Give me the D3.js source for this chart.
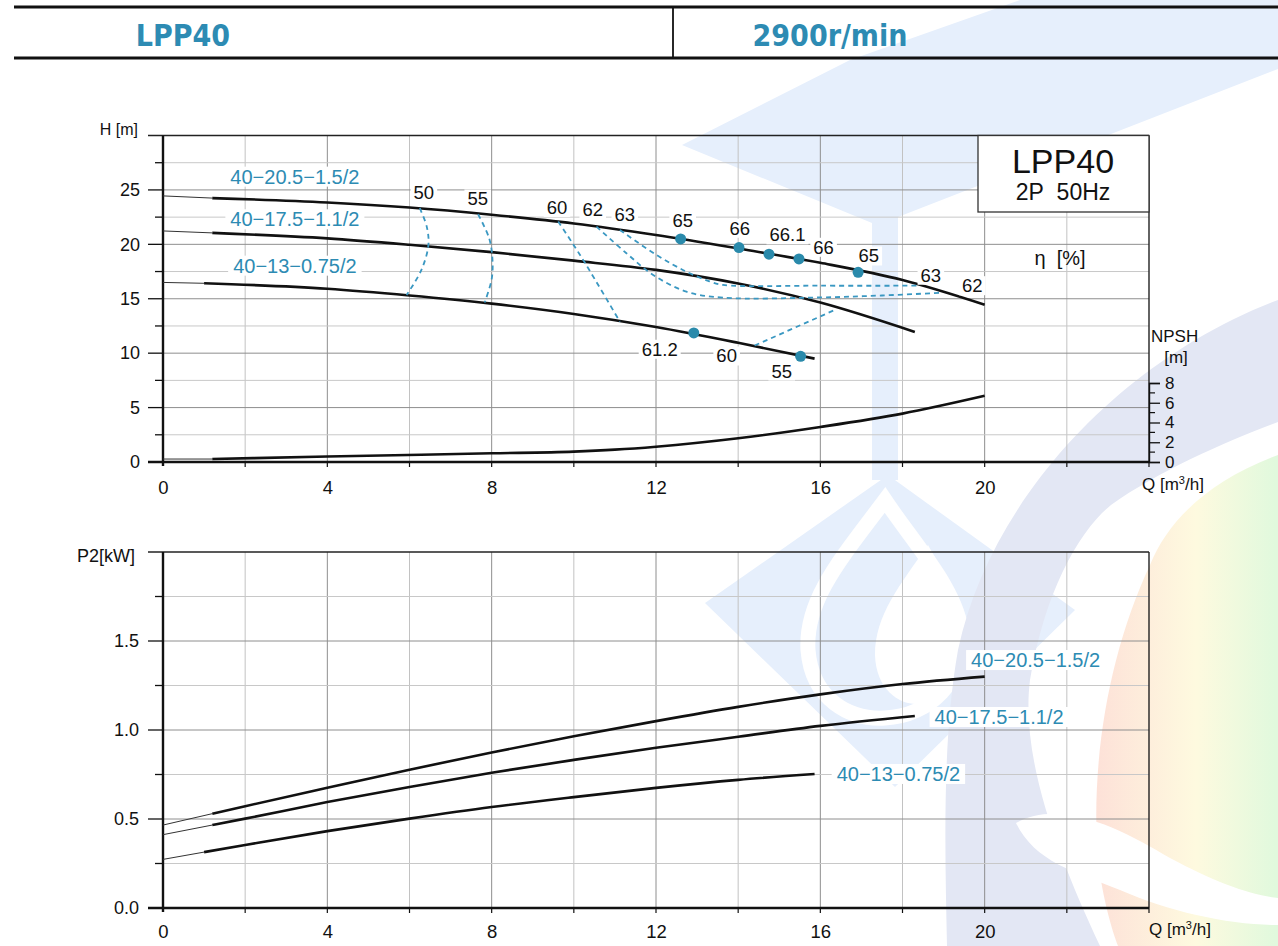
<!DOCTYPE html>
<html>
<head>
<meta charset="utf-8">
<script src="https://cdnjs.cloudflare.com/ajax/libs/d3/7.8.5/d3.min.js"></script>
<style>
  body { margin: 0; background: #fff; }
  svg { display: block; font-family: 'Liberation Sans', Arial, sans-serif; }
</style>
</head>
<body>
<svg id="chart" width="1278" height="946"></svg>
<script>
// ---- data ----
const Q_TICKS = [0, 4, 8, 12, 16, 20];
const H_TICKS = [0, 5, 10, 15, 20, 25];
const NPSH_TICKS = [0, 2, 4, 6, 8];
const P_TICKS = [0, 0.5, 1.0, 1.5];
const MODELS = ['40\u221220.5\u22121.5/2', '40\u221217.5\u22121.1/2', '40\u221213\u22120.75/2'];

// Q-H curves (Q m3/h, H m)
const hQ1 = [0, 1.2, 4, 6, 8, 10, 12, 14, 16, 18, 20];
const hH1 = [24.45, 24.25, 23.85, 23.38, 22.72, 21.92, 20.86, 19.62, 18.3, 16.72, 14.45];
const hQ2 = [0, 1.2, 4, 6, 8, 10, 12, 14, 16, 18.3];
const hH2 = [21.23, 21.05, 20.55, 19.96, 19.28, 18.5, 17.65, 16.4, 14.65, 11.95];
const hQ3 = [0, 1, 4, 6, 8, 10, 12, 14, 15.86];
const hH3 = [16.5, 16.42, 15.92, 15.3, 14.55, 13.6, 12.4, 10.95, 9.5];

// NPSH curve (m)
const npshQ = [0, 1.2, 4, 8, 10, 11, 12, 14, 16, 18, 20];
const npshV = [0.3, 0.3, 0.55, 0.88, 1.05, 1.25, 1.55, 2.4, 3.55, 4.9, 6.7];

// P2 curves (kW)
const pQ1 = [0, 1.2, 2, 4, 6, 8, 10, 12, 14, 16, 18, 20];
const pP1 = [0.466, 0.53, 0.572, 0.675, 0.777, 0.874, 0.965, 1.05, 1.13, 1.2, 1.258, 1.30];
const pQ2 = [0, 1.2, 2, 4, 6, 8, 10, 12, 14, 16, 18.3];
const pP2 = [0.412, 0.466, 0.502, 0.595, 0.68, 0.76, 0.832, 0.9, 0.962, 1.023, 1.079];
const pQ3 = [0, 1, 2, 4, 6, 8, 10, 12, 14, 15.86];
const pP3 = [0.273, 0.314, 0.354, 0.432, 0.502, 0.567, 0.623, 0.675, 0.72, 0.753];

// iso-efficiency lines [Q, H]
const eta50 = [[6.25, 23.32], [6.42, 21.63], [6.46, 19.94], [6.29, 17.65], [5.93, 15.35]];
const eta55 = [[7.67, 22.76], [7.94, 20.54], [8.02, 18.57], [8.0, 16.8], [7.83, 14.65]];
const eta60 = [[9.62, 22.1], [9.95, 20.2], [10.27, 18.3], [11.12, 12.9]];
const eta62 = [[10.55, 21.63], [11.28, 19.18], [11.93, 17.19], [12.74, 15.65], [13.63, 15.1], [16, 15.12], [17.5, 15.3], [18.95, 15.55]];
const eta63 = [[11.12, 21.32], [12.01, 19.03], [12.74, 17.49], [13.3, 16.6], [13.63, 16.27], [16, 16.2], [18.34, 16.2]];
const eta60b = [[14.4, 10.7], [16.4, 14.05]];

// best-efficiency points
const dots = [[12.6, 20.5], [14.02, 19.7], [14.75, 19.1], [15.48, 18.66], [16.92, 17.43], [12.92, 11.86], [15.52, 9.71]];

// efficiency labels [Q, H, text]
const etaLabels = [
  [6.35, 24.75, '50'], [7.66, 24.17, '55'], [9.59, 23.39, '60'], [10.46, 23.16, '62'], [11.24, 22.76, '63'],
  [12.65, 22.15, '65'], [14.04, 21.48, '66'], [15.2, 20.87, '66.1'], [16.08, 19.73, '66'], [17.18, 18.93, '65'],
  [18.69, 17.16, '63'], [19.7, 16.2, '62'], [12.09, 10.36, '61.2'], [13.72, 9.74, '60'], [15.06, 8.36, '55']
];
// model label anchors
const hLabelPos = [[3.21, 26.22], [3.21, 22.3], [3.21, 18.04]];
const pLabelPos = [[21.24, 1.393], [20.35, 1.073], [17.9, 0.753]];

// ---- drawing ----
const svg = d3.select('#chart');
const BLUE = '#2d8bb3';

const x = d3.scaleLinear().domain([0, 24]).range([163, 1149]);
const yH = d3.scaleLinear().domain([0, 30]).range([462, 135.5]);
const yN = d3.scaleLinear().domain([0, 8]).range([462, 383]);
const yP = d3.scaleLinear().domain([0, 2]).range([908, 552]);

// faint logo watermark behind everything
const defs = svg.append('defs');
const warm = defs.append('linearGradient').attr('id', 'warm')
  .attr('gradientUnits', 'userSpaceOnUse').attr('x1', 1095).attr('x2', 1278).attr('y1', 700).attr('y2', 700);
warm.append('stop').attr('offset', '0%').attr('stop-color', '#fde1d8');
warm.append('stop').attr('offset', '55%').attr('stop-color', '#fefadf');
warm.append('stop').attr('offset', '100%').attr('stop-color', '#e0f9dd');

const wm = svg.append('g');
wm.append('path').attr('fill', '#e6effc')
  .attr('d', 'M1020,0 L1278,0 L1278,69 L898,217 L898,480 L872,480 L872,223 L682,145 L850,60 Z');
wm.append('path').attr('fill', '#e6effc')
  .attr('d', 'M705,603 L888,475 L1075,610 L895,787 Z');
wm.append('path').attr('fill', 'none').attr('stroke', '#fff').attr('stroke-width', 15)
  .attr('d', 'M885,500 C840,560 805,600 808,650 C812,700 850,720 885,718 C930,716 965,680 962,635 C958,590 915,545 885,500 Z');
wm.append('path').attr('fill', '#fff')
  .attr('d', 'M928,545 C900,585 875,615 875,655 C876,690 900,705 918,704 C945,702 968,675 966,640 C962,605 945,575 928,545 Z');
wm.append('path').attr('fill', '#e3e7f4')
  .attr('d', 'M1278,300 C1120,360 990,500 958,650 C942,740 945,850 947,946 L1100,946 C1060,860 1020,760 1030,680 C1045,590 1080,530 1111,505 C1160,470 1230,440 1278,422 Z');
wm.append('path').attr('fill', 'url(#warm)')
  .attr('d', 'M1278,455 C1210,480 1168,520 1150,565 C1110,650 1090,760 1098,860 C1103,900 1112,930 1118,946 L1278,946 Z');
wm.append('path').attr('fill', '#fff')
  .attr('d', 'M1016,823 C1060,798 1120,828 1170,858 C1215,882 1250,895 1278,898 L1278,925 C1230,925 1170,912 1120,890 C1075,872 1035,862 1016,823 Z');

// header
const head = svg.append('g');
head.append('line').attr('x1', 14).attr('x2', 1278).attr('y1', 7).attr('y2', 7).attr('stroke', '#111').attr('stroke-width', 3);
head.append('line').attr('x1', 14).attr('x2', 1278).attr('y1', 58).attr('y2', 58).attr('stroke', '#111').attr('stroke-width', 3);
head.append('line').attr('x1', 673).attr('x2', 673).attr('y1', 7).attr('y2', 58).attr('stroke', '#111').attr('stroke-width', 1.8);
head.selectAll('text').data([[183, 'LPP40'], [830, '2900r/min']]).join('text')
  .attr('x', d => d[0]).attr('y', 46).attr('text-anchor', 'middle')
  .style('font-family', "'DejaVu Sans Condensed', 'DejaVu Sans', sans-serif")
  .style('font-stretch', 'condensed').style('font-weight', 'bold').style('font-size', '30px')
  .attr('fill', BLUE).text(d => d[1]);

function isMult(v, m) { return Math.abs(v / m - Math.round(v / m)) < 1e-6; }

function frame(g, y, yMax, yStep, yMajor) {
  const yTop = y(yMax), yBot = y(0);
  g.append('g').selectAll('line').data(d3.range(2, 24, 2)).join('line')
    .attr('x1', d => x(d)).attr('x2', d => x(d)).attr('y1', yTop).attr('y2', yBot)
    .attr('stroke', d => isMult(d, 4) ? '#8e8e8e' : '#c2c2c2').attr('stroke-width', 1);
  g.append('g').selectAll('line').data(d3.range(yStep, yMax - 1e-9, yStep)).join('line')
    .attr('x1', x(0)).attr('x2', x(24)).attr('y1', d => y(d)).attr('y2', d => y(d))
    .attr('stroke', d => isMult(d, yMajor) ? '#8e8e8e' : '#c8c8c8').attr('stroke-width', 1);
  // left ticks
  g.append('g').selectAll('line').data(d3.range(0, yMax - 1e-9, yStep)).join('line')
    .attr('x1', d => isMult(d, yMajor) ? x(0) - 15 : x(0) - 8).attr('x2', x(0))
    .attr('y1', d => y(d)).attr('y2', d => y(d)).attr('stroke', '#111').attr('stroke-width', 1.3);
  // bottom ticks
  g.append('g').selectAll('line').data(d3.range(2, 24.1, 2)).join('line')
    .attr('x1', d => x(d)).attr('x2', d => x(d)).attr('y1', yBot).attr('y2', yBot + 5)
    .attr('stroke', '#111').attr('stroke-width', 1.2);
  // borders
  g.append('line').attr('x1', x(0) - 15).attr('x2', x(24)).attr('y1', yTop).attr('y2', yTop).attr('stroke', '#222').attr('stroke-width', 1.5);
  g.append('line').attr('x1', x(24)).attr('x2', x(24)).attr('y1', yTop).attr('y2', yBot).attr('stroke', '#222').attr('stroke-width', 1.4);
  g.append('line').attr('x1', x(0)).attr('x2', x(0)).attr('y1', yTop).attr('y2', yBot + 4).attr('stroke', '#111').attr('stroke-width', 2.4);
  g.append('line').attr('x1', x(0) - 15).attr('x2', x(24)).attr('y1', yBot).attr('y2', yBot).attr('stroke', '#111').attr('stroke-width', 2.6);
}

function styleAxisText(sel, size) {
  sel.select('.domain').remove();
  sel.selectAll('.tick line').remove();
  sel.selectAll('text').style('font-size', size + 'px').style('font-family', "'Liberation Sans', Arial, sans-serif").attr('fill', '#111');
}

const line = d3.line().curve(d3.curveMonotoneX);
const iso = d3.line().curve(d3.curveCatmullRom.alpha(0.5));

function curve(g, qs, vs, y, split) {
  const pts = qs.map((q, i) => [x(q), y(vs[i])]);
  const thin = pts.filter((p, i) => qs[i] <= split);
  const thick = pts.filter((p, i) => qs[i] >= split);
  g.append('path').attr('d', line(thin)).attr('fill', 'none').attr('stroke', '#333').attr('stroke-width', 1);
  g.append('path').attr('d', line(thick)).attr('fill', 'none').attr('stroke', '#111').attr('stroke-width', 2.6);
}

function boxedText(g, px, py, txt, size, color, pad) {
  const t = g.append('text').attr('x', px).attr('y', py).attr('text-anchor', 'middle')
    .attr('dominant-baseline', 'central').style('font-size', size + 'px').attr('fill', color).text(txt);
  const b = t.node().getBBox();
  g.insert('rect', () => t.node()).attr('x', b.x - pad).attr('y', b.y + 1).attr('width', b.width + 2 * pad)
    .attr('height', b.height - 2).attr('fill', '#fff');
}

// ---------- top chart: Q-H, eta, NPSH ----------
const gTop = svg.append('g');
frame(gTop, yH, 30, 2.5, 5);

gTop.append('g').attr('transform', `translate(${x(0) - 15},0)`)
  .call(d3.axisLeft(yH).tickValues(H_TICKS).tickSize(0).tickPadding(8))
  .call(s => styleAxisText(s, 18));
gTop.append('g').attr('transform', `translate(0,${yH(0) + 5})`)
  .call(d3.axisBottom(x).tickValues(Q_TICKS).tickSize(0).tickPadding(14))
  .call(s => styleAxisText(s, 18.5));

// NPSH axis on the right
const npshAxis = gTop.append('g').attr('transform', `translate(${x(24)},0)`);
npshAxis.call(d3.axisRight(yN).tickValues(NPSH_TICKS).tickSize(11).tickPadding(5));
npshAxis.select('.domain').attr('stroke', '#111').attr('stroke-width', 1.4);
npshAxis.selectAll('.tick line').attr('stroke', '#111').attr('stroke-width', 1.3);
npshAxis.selectAll('text').style('font-size', '17px').style('font-family', "'Liberation Sans', Arial, sans-serif").attr('fill', '#111');
npshAxis.append('g').selectAll('line').data([1, 3, 5, 7]).join('line')
  .attr('x1', 0).attr('x2', 6).attr('y1', d => yN(d)).attr('y2', d => yN(d)).attr('stroke', '#111').attr('stroke-width', 1.2);

// legend box
gTop.append('rect').attr('x', 978).attr('y', yH(30)).attr('width', x(24) - 978).attr('height', 212 - yH(30))
  .attr('fill', '#fff').attr('stroke', '#333').attr('stroke-width', 1.3);
gTop.append('text').attr('x', 1063).attr('y', 173).attr('text-anchor', 'middle').style('font-size', '34px').attr('fill', '#111').text('LPP40');
gTop.append('text').attr('x', 1063).attr('y', 200).attr('text-anchor', 'middle').style('font-size', '23px').attr('fill', '#111')
  .text('2P\u00a0\u00a050Hz');
gTop.append('text').attr('x', 1060).attr('y', 265).attr('text-anchor', 'middle').style('font-size', '20px').attr('fill', '#111')
  .text('\u03b7\u00a0\u00a0[%]');

// axis titles
gTop.append('text').attr('x', 138).attr('y', 135).attr('text-anchor', 'end').style('font-size', '16px').attr('fill', '#111').text('H [m]');
gTop.append('text').attr('x', 1151).attr('y', 342).style('font-size', '17px').attr('fill', '#111').text('NPSH');
gTop.append('text').attr('x', 1176).attr('y', 363).attr('text-anchor', 'middle').style('font-size', '17px').attr('fill', '#111').text('[m]');

function qTitle(g, px, py) {
  const t = g.append('text').attr('x', px).attr('y', py).style('font-size', '17px').attr('fill', '#111');
  t.append('tspan').text('Q [m');
  t.append('tspan').attr('dy', -6).style('font-size', '11px').text('3');
  t.append('tspan').attr('dy', 6).text('/h]');
}
qTitle(gTop, 1142, 490);

// curves
const curvesTop = gTop.append('g');
curve(curvesTop, hQ1, hH1, yH, 1.2);
curve(curvesTop, hQ2, hH2, yH, 1.2);
curve(curvesTop, hQ3, hH3, yH, 1);
curve(curvesTop, npshQ, npshV, yN, 1.2);

// iso-efficiency dashed lines
gTop.append('g').selectAll('path').data([eta50, eta55, eta60, eta62, eta63, eta60b]).join('path')
  .attr('d', d => iso(d.map(p => [x(p[0]), yH(p[1])])))
  .attr('fill', 'none').attr('stroke', '#3a98c2').attr('stroke-width', 1.8).attr('stroke-dasharray', '5,4');

// labels with white background
const etaG = gTop.append('g');
etaLabels.forEach(d => boxedText(etaG, x(d[0]), yH(d[1]), d[2], 18.5, '#111', 3));
const mG = gTop.append('g');
MODELS.forEach((m, i) => boxedText(mG, x(hLabelPos[i][0]), yH(hLabelPos[i][1]), m, 20, BLUE, 5));

gTop.append('g').selectAll('circle').data(dots).join('circle')
  .attr('cx', d => x(d[0])).attr('cy', d => yH(d[1])).attr('r', 5.5).attr('fill', '#2a8aab');

// ---------- bottom chart: P2 ----------
const gBot = svg.append('g');
frame(gBot, yP, 2, 0.25, 0.5);
gBot.append('g').attr('transform', `translate(${x(0) - 15},0)`)
  .call(d3.axisLeft(yP).tickValues(P_TICKS).tickFormat(d3.format('.1f')).tickSize(0).tickPadding(9))
  .call(s => styleAxisText(s, 18));
gBot.append('g').attr('transform', `translate(0,${yP(0) + 5})`)
  .call(d3.axisBottom(x).tickValues(Q_TICKS).tickSize(0).tickPadding(12))
  .call(s => styleAxisText(s, 18.5));
gBot.append('text').attr('x', 135).attr('y', 562).attr('text-anchor', 'end').style('font-size', '18px').attr('fill', '#111').text('P2[kW]');
qTitle(gBot, 1149, 935);

const curvesBot = gBot.append('g');
curve(curvesBot, pQ1, pP1, yP, 1.2);
curve(curvesBot, pQ2, pP2, yP, 1.2);
curve(curvesBot, pQ3, pP3, yP, 1);

const pG = gBot.append('g');
MODELS.forEach((m, i) => boxedText(pG, x(pLabelPos[i][0]), yP(pLabelPos[i][1]), m, 20, BLUE, 5));
</script>
</body>
</html>
